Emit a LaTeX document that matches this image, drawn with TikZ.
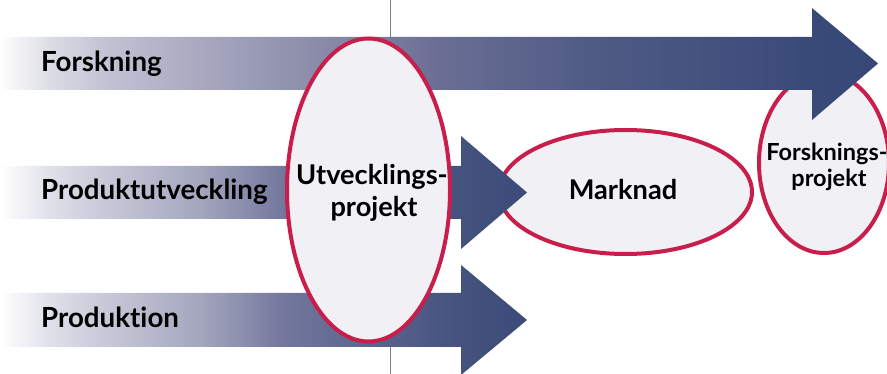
\documentclass[tikz,border=0pt]{standalone}
\usepackage{fontspec}
\setmainfont{Lato}[Ligatures={NoCommon,NoRequired,NoContextual}]
\usetikzlibrary{shapes.geometric}
\definecolor{darkblue}{RGB}{58,74,120}
\definecolor{crimson}{RGB}{200,30,75}
\definecolor{ovalfill}{RGB}{241,240,245}
\definecolor{rulegray}{RGB}{128,128,128}
\definecolor{ta}{RGB}{220,220,230}
\definecolor{tb}{RGB}{196,196,214}
\definecolor{tc}{RGB}{168,168,192}
\definecolor{td}{RGB}{142,144,172}
\definecolor{te}{RGB}{106,110,148}
\definecolor{tf}{RGB}{78,90,132}
\definecolor{tg}{RGB}{58,74,120}
\definecolor{th}{RGB}{56,72,118}
\definecolor{ma}{RGB}{224,224,234}
\definecolor{mb}{RGB}{202,202,218}
\definecolor{mc}{RGB}{164,166,190}
\definecolor{md}{RGB}{114,118,156}
\definecolor{me}{RGB}{68,82,126}
\definecolor{mf}{RGB}{60,74,120}
\pgfdeclarehorizontalshading{topflow}{100bp}{color(0bp)=(white); color(25bp)=(white); color(27.85bp)=(ta); color(30.7bp)=(tb); color(36.4bp)=(tc); color(42.1bp)=(td); color(50.06bp)=(te); color(59.2bp)=(tf); color(71.2bp)=(tg); color(75bp)=(th); color(100bp)=(th)}
\pgfdeclarehorizontalshading{lowflow}{100bp}{color(0bp)=(white); color(25bp)=(white); color(29.74bp)=(ma); color(34.5bp)=(mb); color(44bp)=(mc); color(52bp)=(md); color(68.7bp)=(me); color(75bp)=(mf); color(100bp)=(mf)}
\tikzset{
  topband/.style={shading=topflow, draw=none},
  lowband/.style={shading=lowflow, draw=none},
  oval/.style={ellipse, draw=crimson, line width=4pt, fill=ovalfill, inner sep=0pt},
  lane/.style={anchor=base west, inner sep=0pt, font=\fontsize{27.7}{30}\selectfont\bfseries},
  bigtxt/.style={anchor=base, inner sep=0pt, font=\fontsize{27.2}{30}\selectfont\bfseries},
  smalltxt/.style={anchor=base, inner sep=0pt, font=\fontsize{23.5}{26}\selectfont\bfseries}
}
\begin{document}
\begin{tikzpicture}[x=1pt,y=-1pt]
\useasboundingbox (0,0) rectangle (887,374);
\coordinate (lt) at (390,0);
\coordinate (lb) at (390,374);
\draw[rulegray, line width=1pt] (lt) -- (lb);
\node[oval, minimum width=253pt, minimum height=124pt] (mark) at (625.5,192) {};
\node[bigtxt] (marktext) at (623,200) {Marknad};
\node[oval, minimum width=130pt, minimum height=180pt] (fproj) at (824,163) {};
\node[smalltxt] (fprojtexta) at (827,161) {Forsknings-};
\node[smalltxt] (fprojtextb) at (829,187) {projekt};
\path[topband] (0,37) -- (812,37) -- (812,8) -- (878,63.5) -- (812,120) -- (812,90) -- (0,90) -- cycle;
\path[lowband] (0,166) -- (461,166) -- (461,136) -- (527,192.5) -- (461,249) -- (461,219) -- (0,219) -- cycle;
\path[lowband] (0,293) -- (461,293) -- (461,265) -- (527,320) -- (461,375) -- (461,347) -- (0,347) -- cycle;
\node[oval, minimum width=163pt, minimum height=303pt] (uproj) at (368.5,190) {};
\node[bigtxt] (uprojtexta) at (372,185) {Utvecklings-};
\node[bigtxt] (uprojtextb) at (374,217) {projekt};
\node[lane] (forsk) at (41,72) {Forskning};
\node[lane] (produtv) at (41,200) {Produktutveckling};
\node[lane] (prod) at (41,327) {Produktion};
\end{tikzpicture}
\end{document}
